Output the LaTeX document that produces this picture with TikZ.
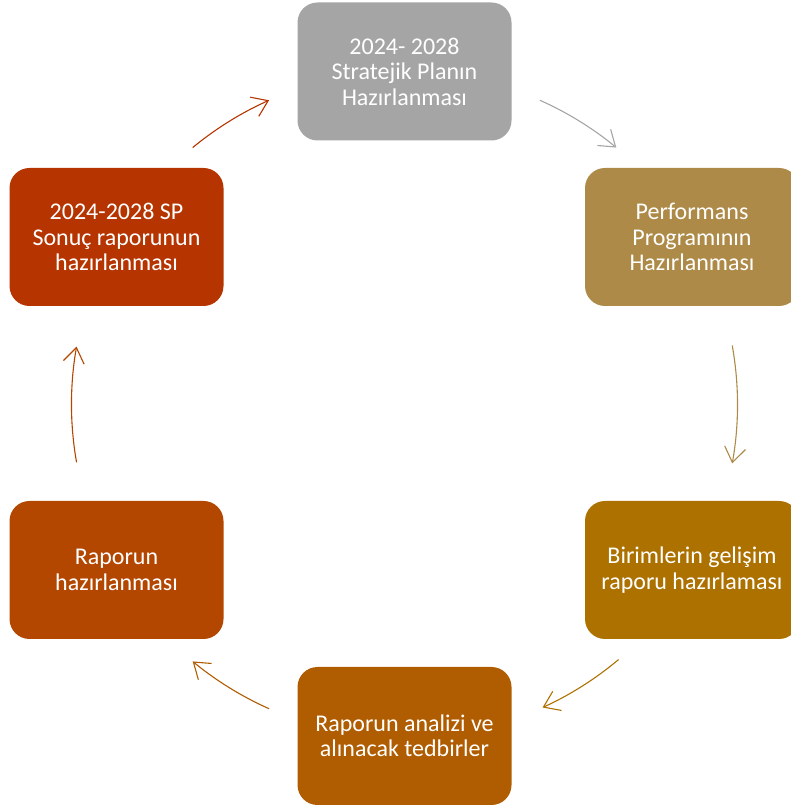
\documentclass[tikz,border=0pt]{standalone}
\usepackage{fontspec}
\setmainfont{Carlito}
\usetikzlibrary{arrows.meta}
\definecolor{stepGray}{HTML}{A5A5A5}
\definecolor{stepTan}{HTML}{AD8A47}
\definecolor{stepGold}{HTML}{AD7100}
\definecolor{stepAmber}{HTML}{B05C00}
\definecolor{stepRust}{HTML}{B34700}
\definecolor{stepRed}{HTML}{B53400}
\tikzset{
	stepbox/.style={rectangle, rounded corners=20pt, minimum width=214pt, minimum height=138pt, inner sep=0pt, text=white, align=center, font=\fontsize{24}{25.5}\selectfont},
	flow/.style={line width=1.1pt, draw=#1, -{Straight Barb[length=15pt, width=21pt, line width=1.1pt]}}
}
\begin{document}
\begin{tikzpicture}[x=1pt,y=1pt]
			\useasboundingbox (0,0) rectangle (791,809);
			\coordinate (c) at (404.5,404.5);
			\node[stepbox, fill=stepGray] (plan) at (404.5,737.5) {2024- 2028\\Stratejik Planın\\Hazırlanması};
			\node[stepbox, fill=stepTan] (perf) at (692,572) {Performans\\Programının\\Hazırlanması};
			\node[stepbox, fill=stepGold] (birim) at (692,239) {Birimlerin gelişim\\raporu hazırlaması};
			\node[stepbox, fill=stepAmber] (analiz) at (404.5,73) {Raporun analizi ve\\alınacak tedbirler};
			\node[stepbox, fill=stepRust] (rapor) at (116.5,239) {Raporun\\hazırlanması};
			\node[stepbox, fill=stepRed] (sonuc) at (116.5,572) {2024-2028 SP\\Sonuç raporunun\\hazırlanması};
			\draw[flow=stepGray] ([shift={(66:333)}]c) arc[start angle=66, end angle=50.5, radius=333];
			\draw[flow=stepTan] ([shift={(10.2:333)}]c) arc[start angle=10.2, end angle=-10.2, radius=333];
			\draw[flow=stepGold] ([shift={(-50:333)}]c) arc[start angle=-50, end angle=-65.5, radius=333];
			\draw[flow=stepAmber] ([shift={(-114:333)}]c) arc[start angle=-114, end angle=-129.5, radius=333];
			\draw[flow=stepRust] ([shift={(190:333)}]c) arc[start angle=190, end angle=170, radius=333];
			\draw[flow=stepRed] ([shift={(129.5:333)}]c) arc[start angle=129.5, end angle=114, radius=333];
		\end{tikzpicture}
\end{document}
